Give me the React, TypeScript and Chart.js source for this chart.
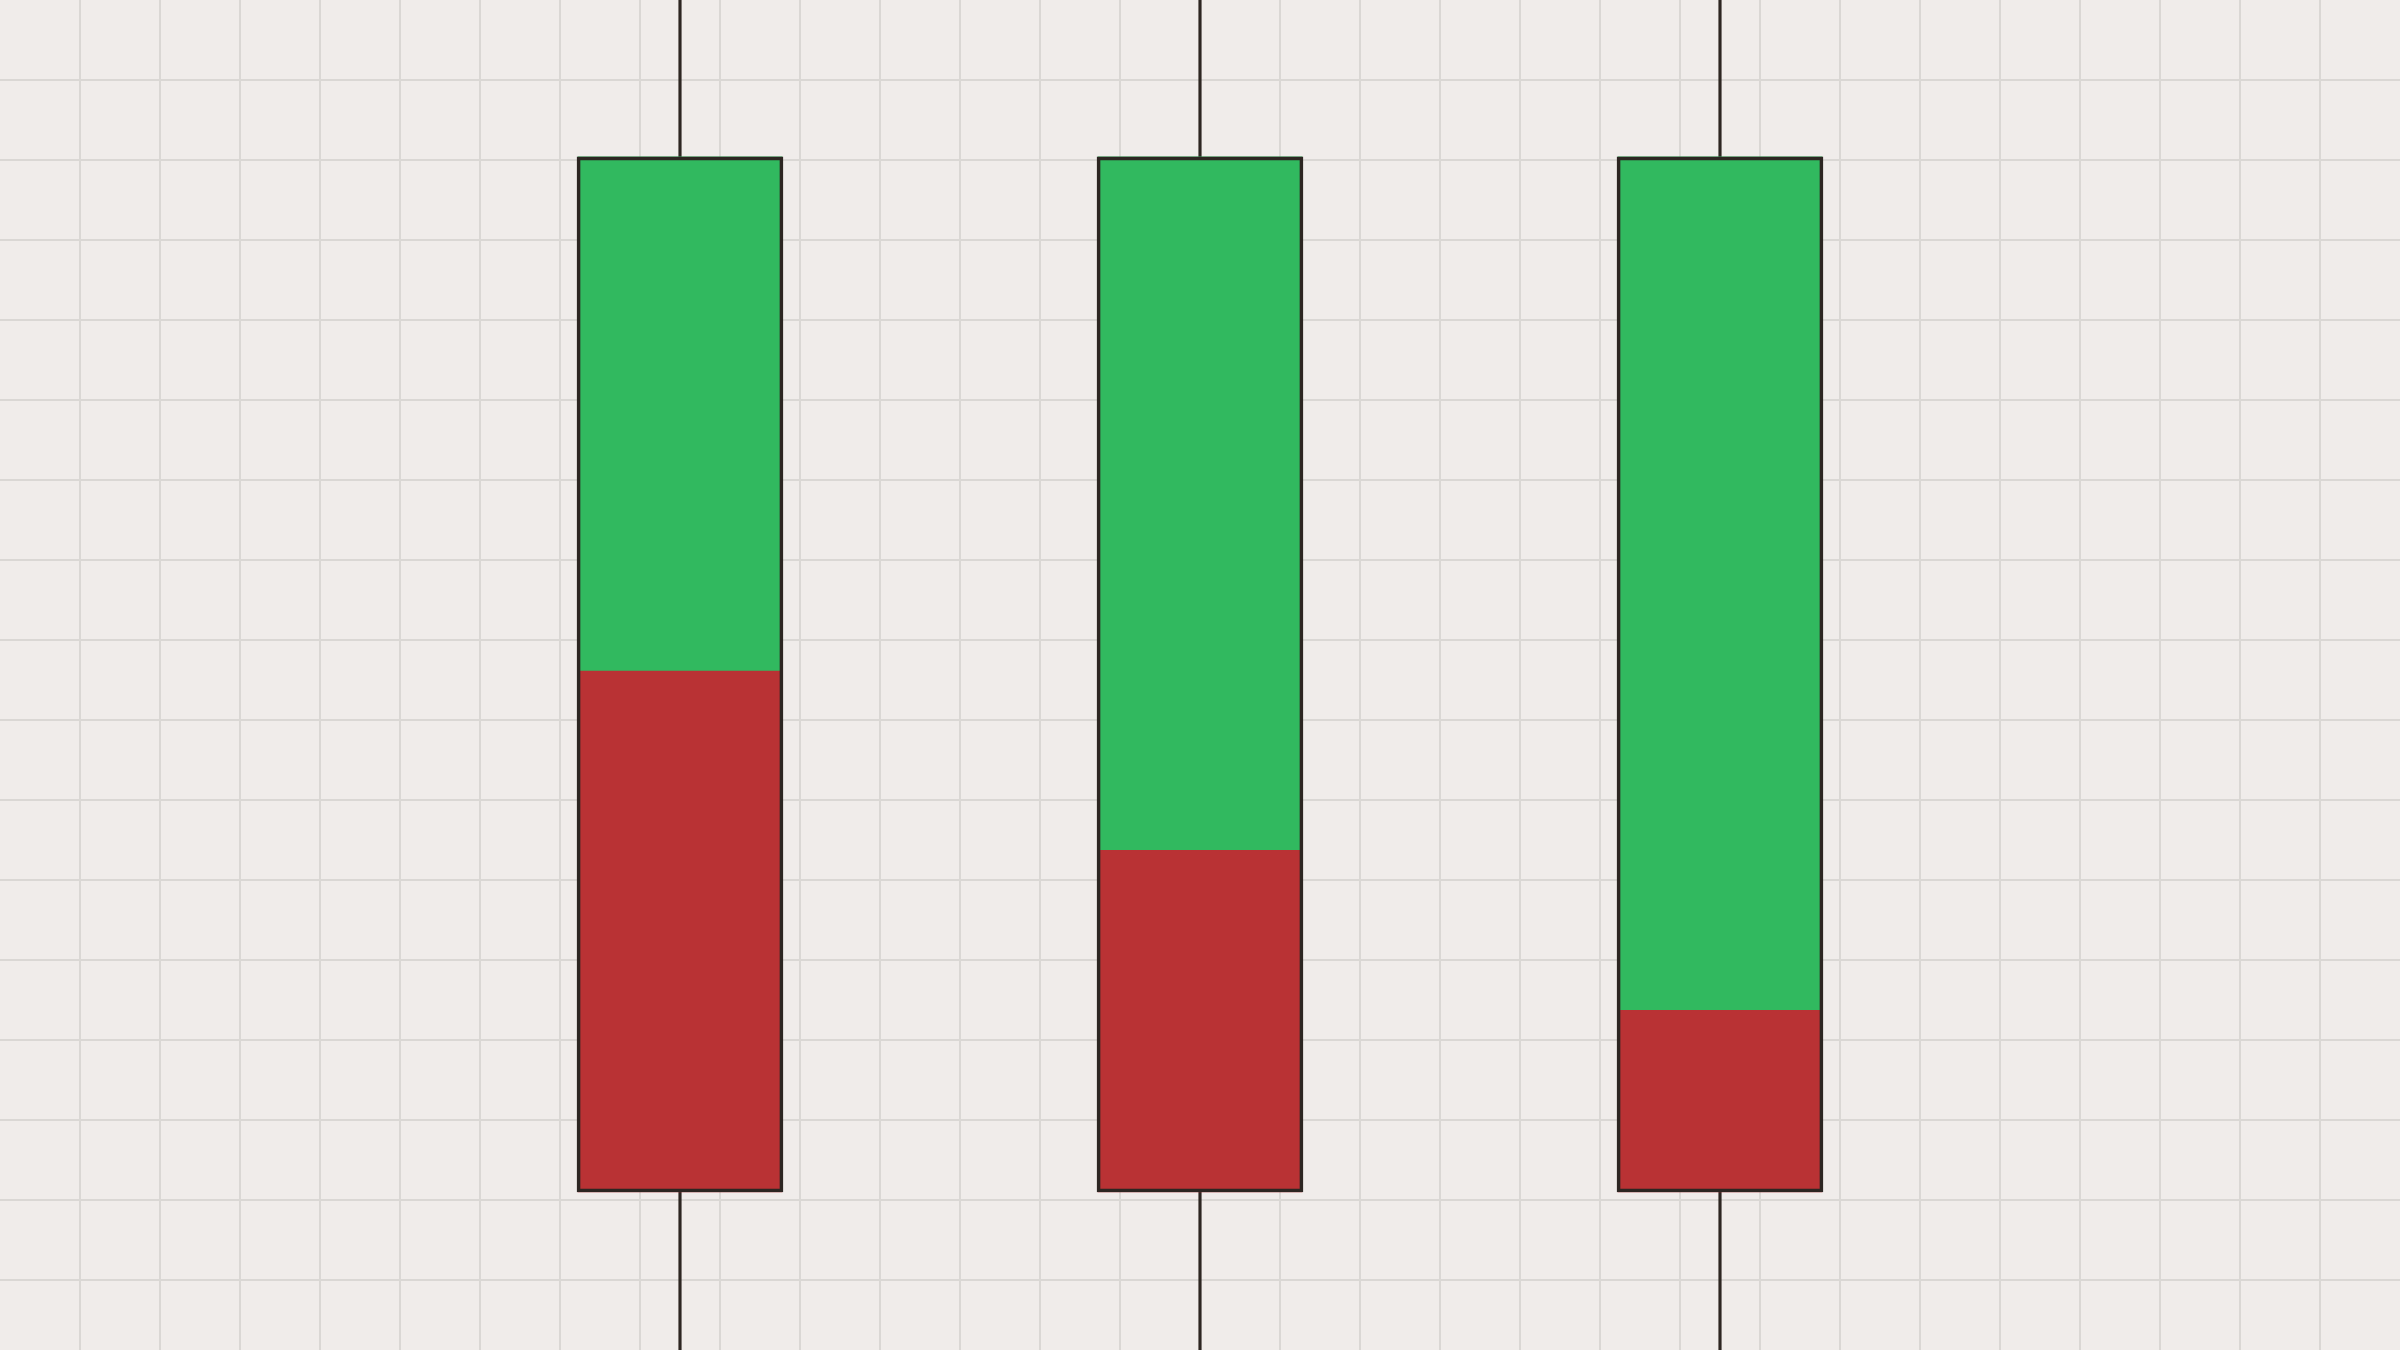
import { useEffect, useRef } from "react";
import { Chart, registerables } from "chart.js";

Chart.register(...registerables);

// candle positions, in grid columns
const slots = [8.5, 15, 21.5];
// body edges and the level where red turns into green, in grid rows
const bodyTop = [14.04, 14.04, 14.04];
const bodyBottom = [1.1, 1.1, 1.1];
const splitLevel = [7.62, 5.38, 3.38];
// wicks run past the edges of the plot
const wickHigh = [18, 18, 18];
const wickLow = [-2, -2, -2];

// grid extents
const xMin = 0;
const xMax = 30;
const yMin = -0.875;
const yMax = 16;

const BG = "#f0ecea";
const GRID = "#dad7d4";
const INK = "#2d2622";
const GREEN = "#31b95f";
const RED = "#b93234";

export default function App() {
  const chartRef = useRef<HTMLCanvasElement>(null);
  const chartInstance = useRef<Chart | null>(null);

  useEffect(() => {
    document.body.style.margin = "0";
    if (!chartRef.current) return;

    if (chartInstance.current) {
      chartInstance.current.destroy();
    }

    const ctx = chartRef.current.getContext("2d");
    if (!ctx) return;

    const gridColor = (c: any) =>
      c.tick && (c.tick.value === c.scale.min || c.tick.value === c.scale.max)
        ? "rgba(0,0,0,0)"
        : GRID;

    chartInstance.current = new Chart(ctx, {
      type: "bar",
      data: {
        datasets: [
          {
            label: "outline",
            data: slots.map((x, i) => ({ x, y: [bodyBottom[i], bodyTop[i]] })) as any,
            backgroundColor: "rgba(0,0,0,0)",
            borderColor: INK,
            borderWidth: 3,
            borderSkipped: false,
            barThickness: 206,
            grouped: false,
          },
          {
            label: "upper",
            data: slots.map((x, i) => ({ x, y: [splitLevel[i], bodyTop[i]] })) as any,
            backgroundColor: GREEN,
            borderWidth: 0,
            barThickness: 204,
            grouped: false,
          },
          {
            label: "lower",
            data: slots.map((x, i) => ({ x, y: [bodyBottom[i], splitLevel[i]] })) as any,
            backgroundColor: RED,
            borderWidth: 0,
            barThickness: 204,
            grouped: false,
          },
          {
            label: "wick",
            data: slots.map((x, i) => ({ x, y: [wickLow[i], wickHigh[i]] })) as any,
            backgroundColor: INK,
            borderWidth: 0,
            barThickness: 2.5,
            grouped: false,
          },
        ],
      },
      options: {
        responsive: true,
        maintainAspectRatio: false,
        animation: false,
        layout: { padding: 0 },
        plugins: {
          legend: { display: false },
          tooltip: { enabled: false },
        },
        scales: {
          x: {
            type: "linear",
            min: xMin,
            max: xMax,
            offset: false,
            border: { display: false },
            grid: {
              offset: false,
              color: gridColor,
              lineWidth: 2,
              drawTicks: false,
            },
            ticks: { display: false, stepSize: 1, maxTicksLimit: 100 },
          },
          y: {
            type: "linear",
            min: yMin,
            max: yMax,
            border: { display: false },
            grid: {
              color: gridColor,
              lineWidth: 2,
              drawTicks: false,
            },
            ticks: { display: false, stepSize: 1, maxTicksLimit: 100 },
          },
        },
      },
    });

    return () => {
      if (chartInstance.current) {
        chartInstance.current.destroy();
        chartInstance.current = null;
      }
    };
  }, []);

  return (
    <div style={{ position: "fixed", inset: 0, background: BG }}>
      <canvas ref={chartRef} />
    </div>
  );
}
